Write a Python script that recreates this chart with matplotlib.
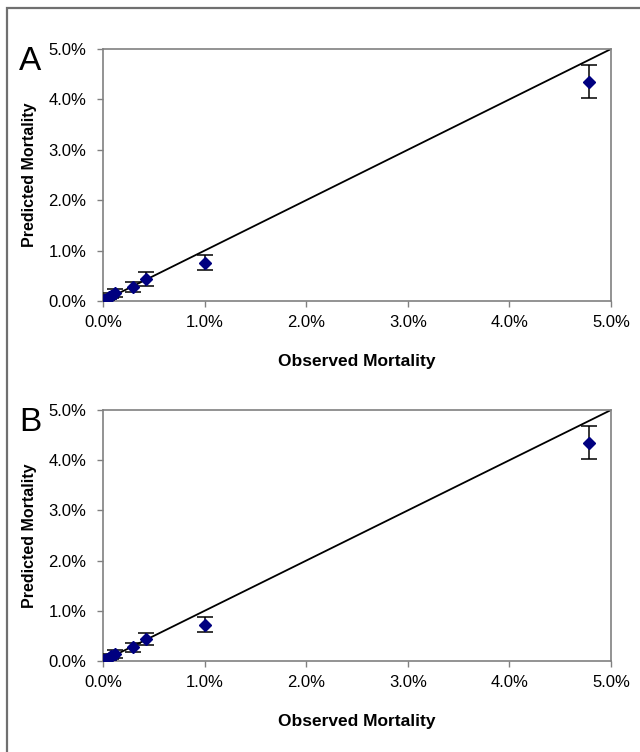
import numpy as np
import matplotlib
matplotlib.use("Agg")
import matplotlib.pyplot as plt
from matplotlib.patches import Rectangle
from matplotlib.ticker import FuncFormatter

plt.rcParams['font.family'] = ['Liberation Sans', 'DejaVu Sans']

# observed vs predicted mortality (%), with error bar half-widths
obs_a = [0.01, 0.02, 0.04, 0.06, 0.08, 0.12, 0.30, 0.42, 1.00, 4.78]
pred_a = [0.01, 0.02, 0.04, 0.07, 0.10, 0.16, 0.28, 0.44, 0.76, 4.35]
err_a = [0.02, 0.02, 0.03, 0.04, 0.05, 0.08, 0.10, 0.14, 0.15, 0.33]

obs_b = [0.01, 0.02, 0.04, 0.06, 0.08, 0.12, 0.30, 0.42, 1.00, 4.78]
pred_b = [0.01, 0.02, 0.04, 0.06, 0.09, 0.14, 0.27, 0.43, 0.72, 4.35]
err_b = [0.02, 0.02, 0.03, 0.04, 0.05, 0.08, 0.09, 0.12, 0.15, 0.33]

ticks = [0, 1, 2, 3, 4, 5]
panels = ['A', 'B']

fig = plt.figure(figsize=(6.4, 7.52), dpi=100)

# outer frame
fig.add_artist(Rectangle((7 / 640, -0.2), 1.2, 1 - 8 / 752 + 0.2, transform=fig.transFigure,
                         fill=False, edgecolor='#707070', lw=1.6, clip_on=False))

fmt = FuncFormatter(lambda v, p: '%.1f%%' % v)

boxes = [[103 / 640, 1 - 301 / 752, 508 / 640, 252 / 752],
         [103 / 640, 1 - 661 / 752, 508 / 640, 251 / 752]]
data = [(obs_a, pred_a, err_a), (obs_b, pred_b, err_b)]

for box, (ob, pr, er), lab in zip(boxes, data, panels):
    ax = fig.add_axes(box)
    ax.plot([0, 5], [0, 5], color='black', lw=1.3, zorder=2)
    ax.errorbar(ob, pr, yerr=er, fmt='D', color='#000080', ms=6.5,
                ecolor='black', elinewidth=1.1, capsize=6, capthick=1.1, zorder=3)
    ax.set_xlim(0, 5)
    ax.set_ylim(0, 5)
    ax.set_xticks(ticks)
    ax.set_yticks(ticks)
    ax.xaxis.set_major_formatter(fmt)
    ax.yaxis.set_major_formatter(fmt)
    for s in ax.spines.values():
        s.set_color('#808080')
        s.set_linewidth(1.2)
    ax.tick_params(direction='out', length=4, width=1, color='#808080',
                   labelsize=12)
    ax.tick_params(axis='x', pad=6)
    ax.tick_params(axis='y', pad=8)
    ax.set_xlabel('Observed Mortality', fontsize=12.5, fontweight='bold')
    ax.set_ylabel('Predicted Mortality', fontsize=11.5, fontweight='bold')
    ax.xaxis.set_label_coords(0.5, -(354 - 301) / 252)
    ax.yaxis.set_label_coords(-(103 - 37) / 508, 0.5)
    fig.text(19 / 640, box[1] + box[3] - 12 / 752, lab, fontsize=24, va='center', ha='left')

fig.savefig('out.png', dpi=100)
